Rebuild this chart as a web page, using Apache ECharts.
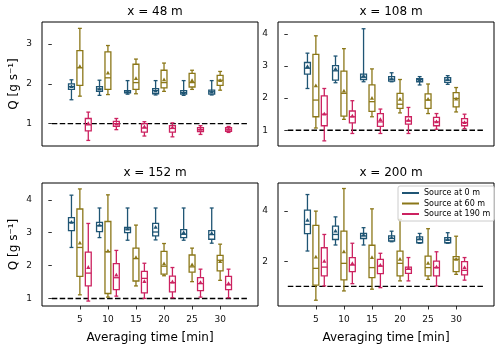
<!DOCTYPE html>
<html>
<head>
<meta charset="utf-8">
<script src="https://cdn.jsdelivr.net/npm/echarts@6/dist/echarts.min.js"></script>
<style>
html,body{margin:0;padding:0;background:#fff;}
#chart{width:500px;height:349px;}
</style>
</head>
<body>
<div id="chart"></div>
<script>
// ---- data ----
const times = [5, 10, 15, 20, 25, 30];
const sourceNames = ['Source at 0 m', 'Source at 60 m', 'Source at 190 m'];
const panelTitles = ['x = 48 m', 'x = 108 m', 'x = 152 m', 'x = 200 m'];
const yTicks48 = [1, 2, 3];
const yTicks108 = [1, 2, 3, 4];
const yTicks152 = [1, 2, 3, 4];
const yTicks200 = [2, 4];
const xTicks = [5, 10, 15, 20, 25, 30];
const referenceLevel = 1;
const referenceSpan = [0, 35];

// each entry: [whiskerLow, q1, median, q3, whiskerHigh, mean]
const p48_src0 = [[1.60,1.86,1.93,2.00,2.10,1.93],[1.71,1.81,1.87,1.93,2.09,1.87],[1.74,1.77,1.79,1.83,2.08,1.80],[1.72,1.75,1.83,1.88,2.08,1.82],[1.71,1.74,1.78,1.83,2.08,1.78],[1.72,1.74,1.80,1.84,2.08,1.79]];
const p48_src60 = [[1.69,1.96,2.40,2.83,3.39,2.43],[1.73,1.86,2.15,2.80,2.96,2.27],[1.75,1.86,2.03,2.49,2.62,2.13],[1.81,1.90,2.03,2.34,2.52,2.10],[1.86,1.92,2.03,2.26,2.34,2.08],[1.84,1.96,2.09,2.21,2.31,2.08]];
const p48_src190 = [[0.58,0.82,0.97,1.13,1.29,1.00],[0.85,0.93,1.00,1.06,1.13,0.99],[0.69,0.79,0.89,1.00,1.05,0.92],[0.67,0.79,0.88,0.95,1.02,0.90],[0.73,0.80,0.85,0.90,0.95,0.86],[0.78,0.81,0.86,0.90,0.93,0.86]];

const p108_src0 = [[2.30,2.75,2.93,3.11,3.40,2.98],[2.48,2.56,2.85,3.01,3.31,2.90],[2.51,2.58,2.65,2.75,4.16,2.69],[2.51,2.53,2.59,2.67,2.79,2.60],[2.41,2.51,2.58,2.61,2.67,2.57],[2.43,2.49,2.56,2.64,2.70,2.58]];
const p108_src60 = [[1.07,1.42,1.94,3.36,3.94,2.38],[1.34,1.44,2.15,2.84,3.54,2.22],[1.42,1.59,1.89,2.41,2.91,1.99],[1.54,1.68,1.81,2.15,2.58,1.96],[1.52,1.68,1.94,2.13,2.44,1.96],[1.57,1.73,1.99,2.17,2.33,1.97]];
const p108_src190 = [[0.67,1.14,1.50,2.07,2.30,1.50],[0.90,1.23,1.42,1.60,1.92,1.44],[0.90,1.12,1.26,1.52,1.66,1.33],[0.90,1.19,1.29,1.42,1.71,1.31],[1.03,1.14,1.26,1.40,1.52,1.26],[1.05,1.14,1.24,1.36,1.50,1.24]];

const p152_src0 = [[2.55,3.06,3.31,3.46,4.14,3.31],[2.85,3.03,3.21,3.31,3.75,3.23],[2.77,3.00,3.11,3.16,3.75,3.11],[2.78,2.90,3.02,3.28,3.75,3.16],[2.77,2.85,2.95,3.09,3.75,3.00],[2.68,2.80,2.94,3.06,3.75,2.98]];
const p152_src60 = [[1.11,1.67,2.55,3.72,4.33,2.68],[1.04,1.15,2.42,3.34,4.15,2.44],[1.38,1.53,2.21,2.53,3.23,2.24],[1.69,1.74,1.98,2.43,2.67,2.05],[1.51,1.80,1.96,2.32,2.53,2.02],[1.55,1.84,2.16,2.31,2.65,2.12]];
const p152_src190 = [[0.92,1.38,1.77,2.41,3.28,1.94],[1.07,1.27,1.63,2.06,2.46,1.71],[1.00,1.17,1.61,1.82,2.07,1.51],[1.02,1.20,1.48,1.68,1.94,1.50],[1.04,1.24,1.45,1.63,1.89,1.48],[1.02,1.27,1.41,1.67,1.89,1.45]];

const p200_src0 = [[2.41,3.10,3.47,4.04,4.66,3.63],[2.65,2.87,3.07,3.40,3.77,3.20],[2.65,2.91,3.01,3.11,3.34,3.05],[2.78,2.81,2.91,3.01,3.20,2.94],[2.72,2.74,2.87,2.97,3.11,2.90],[2.72,2.74,2.85,2.94,3.14,2.87]];
const p200_src60 = [[0.45,1.05,1.72,3.43,4.00,2.17],[0.82,1.26,1.92,3.20,4.90,2.38],[0.89,1.35,1.75,2.64,4.09,2.15],[1.22,1.42,1.92,2.41,3.67,2.08],[1.28,1.42,1.75,2.21,3.30,1.92],[1.48,1.59,2.08,2.19,3.00,2.08]];
const p200_src190 = [[1.02,1.42,1.77,2.54,3.07,2.00],[1.11,1.59,1.85,2.15,2.72,1.91],[0.95,1.51,1.81,2.08,2.32,1.84],[1.22,1.52,1.68,1.77,2.15,1.71],[1.02,1.42,1.75,2.01,2.38,1.77],[1.25,1.46,1.64,1.99,2.15,1.75]];

// ---- layout / style ----
const COLORS = ['#1f5574', '#8b7718', '#cc2260'];
const OFFSETS = [-1.5, 0, 1.5];
const BOX_W = 1.05;
const LW = 1.3;
const FONT = 'DejaVu Sans';

const panels = [
  { data: [p48_src0, p48_src60, p48_src190], ticks: yTicks48, ymin: 0.44, ymax: 3.55, grid: {left: 42, top: 22, width: 216, height: 124}, bottom: false, ylabel: true },
  { data: [p108_src0, p108_src60, p108_src190], ticks: yTicks108, ymin: 0.51, ymax: 4.37, grid: {left: 278, top: 22, width: 216, height: 124}, bottom: false, ylabel: false },
  { data: [p152_src0, p152_src60, p152_src190], ticks: yTicks152, ymin: 0.77, ymax: 4.51, grid: {left: 42, top: 183, width: 216, height: 123}, bottom: true, ylabel: true },
  { data: [p200_src0, p200_src60, p200_src190], ticks: yTicks200, ymin: 0.22, ymax: 5.12, grid: {left: 278, top: 183, width: 216, height: 123}, bottom: true, ylabel: false }
];

function renderBox(params, api) {
  const x = api.value(0);
  const low = api.value(1), q1 = api.value(2), med = api.value(3), q3 = api.value(4), high = api.value(5), mean = api.value(6);
  const color = api.visual('color');
  const bw = api.size([BOX_W, 0])[0];
  const half = bw / 2;
  const cap = bw * 0.33;
  const pLow = api.coord([x, low]);
  const pQ1 = api.coord([x, q1]);
  const pMed = api.coord([x, med]);
  const pQ3 = api.coord([x, q3]);
  const pHigh = api.coord([x, high]);
  const pMean = api.coord([x, mean]);
  const cx = pMed[0];
  const st = { stroke: color, lineWidth: LW, fill: null };
  return {
    type: 'group',
    children: [
      { type: 'line', shape: { x1: cx, y1: pLow[1], x2: cx, y2: pQ1[1] }, style: st },
      { type: 'line', shape: { x1: cx, y1: pQ3[1], x2: cx, y2: pHigh[1] }, style: st },
      { type: 'line', shape: { x1: cx - cap, y1: pLow[1], x2: cx + cap, y2: pLow[1] }, style: st },
      { type: 'line', shape: { x1: cx - cap, y1: pHigh[1], x2: cx + cap, y2: pHigh[1] }, style: st },
      { type: 'rect', shape: { x: cx - half, y: pQ3[1], width: bw, height: pQ1[1] - pQ3[1] }, style: { stroke: color, lineWidth: LW, fill: 'rgba(255,255,255,0)' } },
      { type: 'line', shape: { x1: cx - half, y1: pMed[1], x2: cx + half, y2: pMed[1] }, style: st },
      { type: 'polygon', shape: { points: [[cx, pMean[1] - 2.4], [cx - 2.1, pMean[1] + 1.4], [cx + 2.1, pMean[1] + 1.4]] }, style: { fill: color, stroke: null } }
    ]
  };
}

const grids = [], xAxes = [], yAxes = [], series = [], titles = [];
panels.forEach((p, i) => {
  grids.push(Object.assign({ show: true, borderColor: '#000', borderWidth: 1, backgroundColor: 'transparent' }, p.grid));
  titles.push({
    text: panelTitles[i],
    left: p.grid.left + p.grid.width / 2,
    top: p.grid.top - 21,
    textAlign: 'center',
    textStyle: { fontFamily: FONT, fontSize: 12, fontWeight: 'normal', color: '#000' }
  });
  xAxes.push({
    type: 'value', gridIndex: i, min: -1.75, max: 36.75,
    axisLine: { show: false },
    splitLine: { show: false },
    axisTick: { show: p.bottom, customValues: xTicks, length: 3.5, lineStyle: { color: '#000', width: 0.8 } },
    axisLabel: { show: p.bottom, customValues: xTicks, fontFamily: FONT, fontSize: 9, color: '#111', margin: 9 },
    name: p.bottom ? 'Averaging time [min]' : '',
    nameLocation: 'middle', nameGap: 26,
    nameTextStyle: { fontFamily: FONT, fontSize: 12, color: '#000' }
  });
  yAxes.push({
    type: 'value', gridIndex: i, min: p.ymin, max: p.ymax,
    axisLine: { show: false },
    splitLine: { show: false },
    axisTick: { show: true, customValues: p.ticks, length: 3.5, lineStyle: { color: '#000', width: 0.8 } },
    axisLabel: { customValues: p.ticks, fontFamily: FONT, fontSize: 9, color: '#111', margin: 10 },
    name: p.ylabel ? 'Q [g s\u207B\u00B9]' : '',
    nameLocation: 'middle', nameGap: 22, nameRotate: 90,
    nameTextStyle: { fontFamily: FONT, fontSize: 12, color: '#000' }
  });
  series.push({
    type: 'line', xAxisIndex: i, yAxisIndex: i, silent: true, symbol: 'none',
    data: [[referenceSpan[0], referenceLevel], [referenceSpan[1], referenceLevel]],
    lineStyle: { color: '#000', width: 1.4, type: [5.5, 2.4] },
    z: 1
  });
  p.data.forEach((arr, s) => {
    series.push({
      type: 'custom', name: sourceNames[s], xAxisIndex: i, yAxisIndex: i,
      itemStyle: { color: COLORS[s] },
      renderItem: renderBox,
      encode: { x: 0, y: [1, 2, 3, 4, 5, 6] },
      data: arr.map((v, k) => [times[k] + OFFSETS[s]].concat(v)),
      z: 3
    });
  });
});

const chart = echarts.init(document.getElementById('chart'), null, { renderer: 'canvas' });
chart.setOption({
  animation: false,
  backgroundColor: '#fff',
  title: titles,
  grid: grids,
  xAxis: xAxes,
  yAxis: yAxes,
  legend: {
    data: sourceNames,
    orient: 'vertical',
    left: 398, top: 186,
    icon: 'rect',
    itemWidth: 17, itemHeight: 2,
    itemGap: 2.5,
    padding: [3, 4, 3, 4],
    borderColor: '#ccc', borderWidth: 1, borderRadius: 2,
    backgroundColor: 'rgba(255,255,255,0.8)',
    textStyle: { fontFamily: FONT, fontSize: 8, color: '#000', lineHeight: 8 },
    selectedMode: false
  },
  series: series
});
</script>
</body>
</html>
